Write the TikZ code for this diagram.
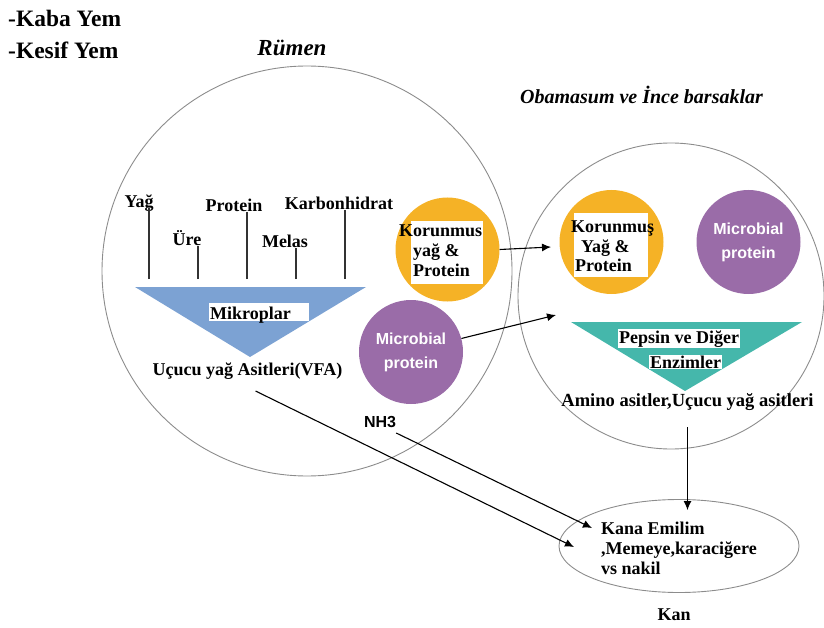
\documentclass[tikz,border=0pt]{standalone}
\usepackage{fontspec}
\setmainfont{Liberation Serif}
\setsansfont{Liberation Sans}
\usetikzlibrary{arrows.meta,shapes.geometric}
\definecolor{turuncu}{HTML}{F5B226}
\definecolor{mor}{HTML}{9A6CA8}
\definecolor{mavi}{HTML}{7CA2D3}
\definecolor{yesil}{HTML}{45B7AB}

\begin{document}
\begin{tikzpicture}[x=1pt,y=-1pt,
  yazi/.style={font=\bfseries\fontsize{18}{20}\selectfont,inner sep=0pt},
  baslik/.style={font=\bfseries\itshape\fontsize{#1}{#1}\selectfont,inner sep=0pt},
  kutu/.style={fill=white,inner sep=1pt},
  bolme/.style={circle,draw=gray!90,line width=0.9pt,minimum size=#1,inner sep=0pt},
  yuvarlak/.style={circle,fill=#1,minimum size=104pt,inner sep=0pt},
  mikrop/.style={yuvarlak=mor,text=white,align=center,font=\sffamily\bfseries\fontsize{16}{24}\selectfont},
  ok/.style={line width=1.1pt,-{Latex[length=9pt,width=8pt]}},
  dal/.style={line width=1.4pt,black!80}]
\useasboundingbox (0,0) rectangle (824,628);

% yemler
\node[yazi,font=\bfseries\fontsize{23.5}{23.5}\selectfont,anchor=west] (kaba) at (8,18) {-Kaba Yem};
\node[yazi,font=\bfseries\fontsize{23.5}{23.5}\selectfont,anchor=west] (kesif) at (8,50) {-Kesif Yem};

% rumen
\node[bolme=410pt] (rumen) at (307,271) {};
\node[baslik=23] (rumenad) at (292,48) {Rümen};
\node[yazi,anchor=base] (yag) at (139,208) {Yağ};
\node[yazi,anchor=base] (ure) at (187,246) {Üre};
\node[yazi,anchor=base] (prot) at (234,212) {Protein};
\node[yazi,anchor=base] (melas) at (285,248) {Melas};
\node[yazi,anchor=base] (karb) at (339,210) {Karbonhidrat};
\foreach \ad/\x in {yag/149,ure/198,prot/247,melas/296,karb/345}
  \draw[dal] (\x,279) -- (\x,0 |- \ad.base);
\fill[mavi] (135,287) -- (366,287) -- (250,357) -- cycle;
\fill[white] (209,303) rectangle (309,321);
\node[yazi,anchor=base west] (mikroplar) at (210,319) {Mikroplar};
\node[yazi,anchor=base] (vfa) at (247.5,375) {Uçucu yağ Asitleri(VFA)};

\node[yuvarlak=turuncu] (kor1) at (447.5,249.5) {};
\fill[white] (411,221) rectangle (483,284);
\node[yazi,align=left,anchor=north west] (kor1yazi) at (399,225)
  {Korunmus\\\hspace*{14pt}yağ \&\\\hspace*{14pt}Protein};
\node[mikrop] (mic1) at (411,352) {Microbial\\protein};
\node[font=\sffamily\bfseries\fontsize{16}{16}\selectfont,inner sep=0pt] (nh3) at (380,422) {NH3};

% obamasum ve ince barsaklar
\node[bolme=306pt] (ince) at (671,296) {};
\node[baslik=20] (incead) at (641.5,95) {Obamasum ve İnce barsaklar};
\node[yuvarlak=turuncu] (kor2) at (611.5,242) {};
\fill[white] (574,213) rectangle (648,277);
\node[yazi,align=left,anchor=north west,font=\bfseries\fontsize{18}{19.5}\selectfont] (kor2yazi) at (571,221)
  {Korunmuş\\\hspace*{10pt}Yağ \&\\\hspace*{4pt}Protein};
\node[mikrop] (mic2) at (748.5,242) {Microbial\\protein};
\fill[yesil] (571,322) -- (802,322) -- (685,391) -- cycle;
\node[yazi,kutu,anchor=base west] (pepsin) at (618,343) {Pepsin ve Diğer};
\node[yazi,kutu,anchor=base west] (enzim) at (649,368) {Enzimler};
\node[yazi,anchor=base,font=\bfseries\fontsize{18.5}{20}\selectfont] (amino) at (687.5,406) {Amino asitler,Uçucu yağ asitleri};

% kan
\node[ellipse,draw=gray!90,line width=0.9pt,minimum width=240pt,minimum height=93pt,inner sep=0pt] (kan) at (679,546) {};
\node[yazi,align=left,anchor=north west] (emilim) at (601,522)
  {Kana Emilim\\,Memeye,karaciğere\\vs nakil};
\node[yazi,anchor=base] (kanad) at (674,620) {Kan};

% oklar
\coordinate (kor2ok) at (551,247);
\coordinate (mic2ok) at (556,315);
\coordinate (vfaok) at (574,547);
\coordinate (nh3ok) at (592,528);
\coordinate (kanust) at ([yshift=-11pt]kan.north);
\draw[ok] (kor1.east) -- (kor2ok);
\draw[ok] (mic1.15) -- (mic2ok);
\draw[ok] ([xshift=8pt,yshift=-16pt]vfa.base) -- (vfaok);
\draw[ok] ([yshift=-11pt]nh3.east) -- (nh3ok);
\draw[ok] ([yshift=-21pt]amino.base) -- (amino.base |- kanust);
\end{tikzpicture}
\end{document}
